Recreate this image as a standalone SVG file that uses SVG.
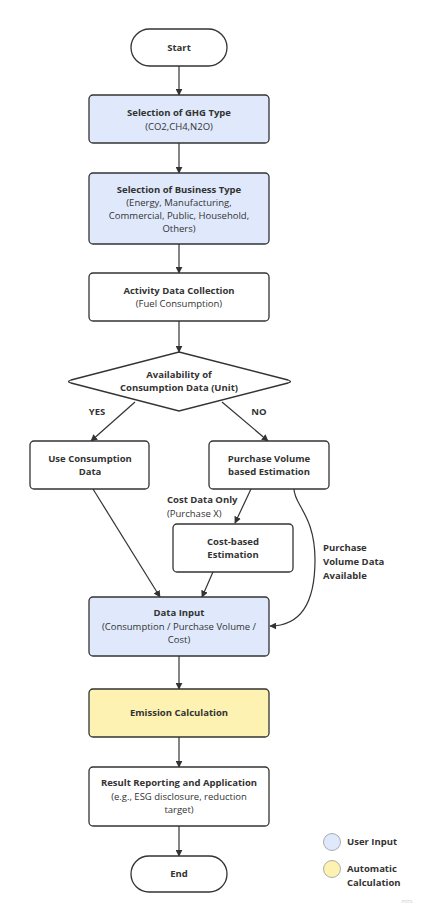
<svg xmlns="http://www.w3.org/2000/svg" width="424" height="914" viewBox="0 0 424 914">
<defs>
<marker id="ah" viewBox="0 0 10 10" refX="9" refY="5" markerWidth="7" markerHeight="7" orient="auto-start-reverse" markerUnits="userSpaceOnUse">
<path d="M0,0 L10,5 L0,10 Z" fill="#333"/>
</marker>
<style>
.n{fill:#fff;stroke:#333;stroke-width:1.3}
.u{fill:#dfe9fb;stroke:#333;stroke-width:1.3}
.a{fill:#fdf2b1;stroke:#333;stroke-width:1.3}
.c{fill:none;stroke:#333;stroke-width:1.2;marker-end:url(#ah)}
text{font-family:"Open Sans","Noto Sans","Liberation Sans",sans-serif;font-size:9.5px;fill:#333;text-anchor:middle}
.b{font-weight:700}
.l{text-anchor:start}
</style>
</defs>
<rect width="424" height="914" fill="#fff"/>
<g id="connectors">
<line class="c" x1="179" y1="66" x2="179" y2="95"/>
<line class="c" x1="179" y1="143" x2="179" y2="173"/>
<line class="c" x1="179" y1="244" x2="179" y2="273"/>
<line class="c" x1="179" y1="321" x2="179" y2="352"/>
<line class="c" x1="135" y1="402" x2="91" y2="441"/>
<line class="c" x1="222" y1="402" x2="268" y2="441"/>
<line class="c" x1="251" y1="489" x2="235" y2="523"/>
<line class="c" x1="93" y1="489" x2="160" y2="597"/>
<line class="c" x1="213" y1="572" x2="202" y2="597"/>
<path class="c" d="M294,489 C294,505 315,515 315,560 C315,600 302,626 270,626"/>
<line class="c" x1="179" y1="656" x2="179" y2="689"/>
<line class="c" x1="179" y1="737" x2="179" y2="767"/>
<line class="c" x1="179" y1="826" x2="179" y2="856"/>
<text class="b" x="97" y="415">YES</text>
<text class="b" x="259" y="415">NO</text>
<text class="b l" x="167" y="503">Cost Data Only</text>
<text class="l" x="167" y="517">(Purchase X)</text>
<text class="b l" x="323" y="551">Purchase</text>
<text class="b l" x="323" y="565">Volume Data</text>
<text class="b l" x="323" y="579">Available</text>
</g>
<g id="start">
<rect class="n" x="131" y="29" width="96" height="37" rx="18.5"/>
<text class="b" x="179" y="51">Start</text>
</g>
<g id="ghg">
<rect class="u" x="89" y="95" width="180" height="48" rx="4"/>
<text class="b" x="179" y="116">Selection of GHG Type</text>
<text x="179" y="130">(CO2,CH4,N2O)</text>
</g>
<g id="business">
<rect class="u" x="89" y="173" width="180" height="71" rx="4"/>
<text class="b" x="179" y="193">Selection of Business Type</text>
<text x="179" y="206">(Energy, Manufacturing,</text>
<text x="179" y="219">Commercial, Public, Household,</text>
<text x="179" y="232">Others)</text>
</g>
<g id="activity">
<rect class="n" x="89" y="273" width="180" height="48" rx="4"/>
<text class="b" x="179" y="294">Activity Data Collection</text>
<text x="179" y="307">(Fuel Consumption)</text>
</g>
<g id="decision">
<path class="n" d="M179,352 L288,380 Q293,381.5 288,383 L179,411 L71,383 Q66,381.5 71,380 Z"/>
<text class="b" x="179" y="378">Availability of</text>
<text class="b" x="179" y="391">Consumption Data (Unit)</text>
</g>
<g id="useconsumption">
<rect class="n" x="30" y="441" width="119" height="48" rx="4"/>
<text class="b" x="90" y="462">Use Consumption</text>
<text class="b" x="90" y="475">Data</text>
</g>
<g id="purchase">
<rect class="n" x="209" y="441" width="120" height="48" rx="4"/>
<text class="b" x="269" y="462">Purchase Volume</text>
<text class="b" x="269" y="475">based Estimation</text>
</g>
<g id="costbased">
<rect class="n" x="173" y="524" width="120" height="48" rx="4"/>
<text class="b" x="233" y="545">Cost-based</text>
<text class="b" x="233" y="558">Estimation</text>
</g>
<g id="datainput">
<rect class="u" x="89" y="597" width="180" height="59" rx="4"/>
<text class="b" x="179" y="616">Data Input</text>
<text x="179" y="630">(Consumption / Purchase Volume /</text>
<text x="179" y="643">Cost)</text>
</g>
<g id="emission">
<rect class="a" x="89" y="689" width="180" height="48" rx="4"/>
<text class="b" x="179" y="716">Emission Calculation</text>
</g>
<g id="result">
<rect class="n" x="89" y="767" width="180" height="59" rx="4"/>
<text class="b" x="179" y="786">Result Reporting and Application</text>
<text x="179" y="800">(e.g., ESG disclosure, reduction</text>
<text x="179" y="813">target)</text>
</g>
<g id="end">
<rect class="n" x="131" y="856" width="96" height="36" rx="18"/>
<text class="b" x="179" y="877">End</text>
</g>
<g id="legend">
<circle cx="332" cy="842" r="8.5" fill="#dfe9fb" stroke="#999" stroke-width="0.8"/>
<text class="b l" x="347" y="845">User Input</text>
<circle cx="332" cy="869" r="8.5" fill="#fdf2b1" stroke="#999" stroke-width="0.8"/>
<text class="b l" x="347" y="872">Automatic</text>
<text class="b l" x="347" y="886">Calculation</text>
</g>
<text x="407" y="903" style="font-size:5px;fill:#ccc">miro</text>
</svg>
